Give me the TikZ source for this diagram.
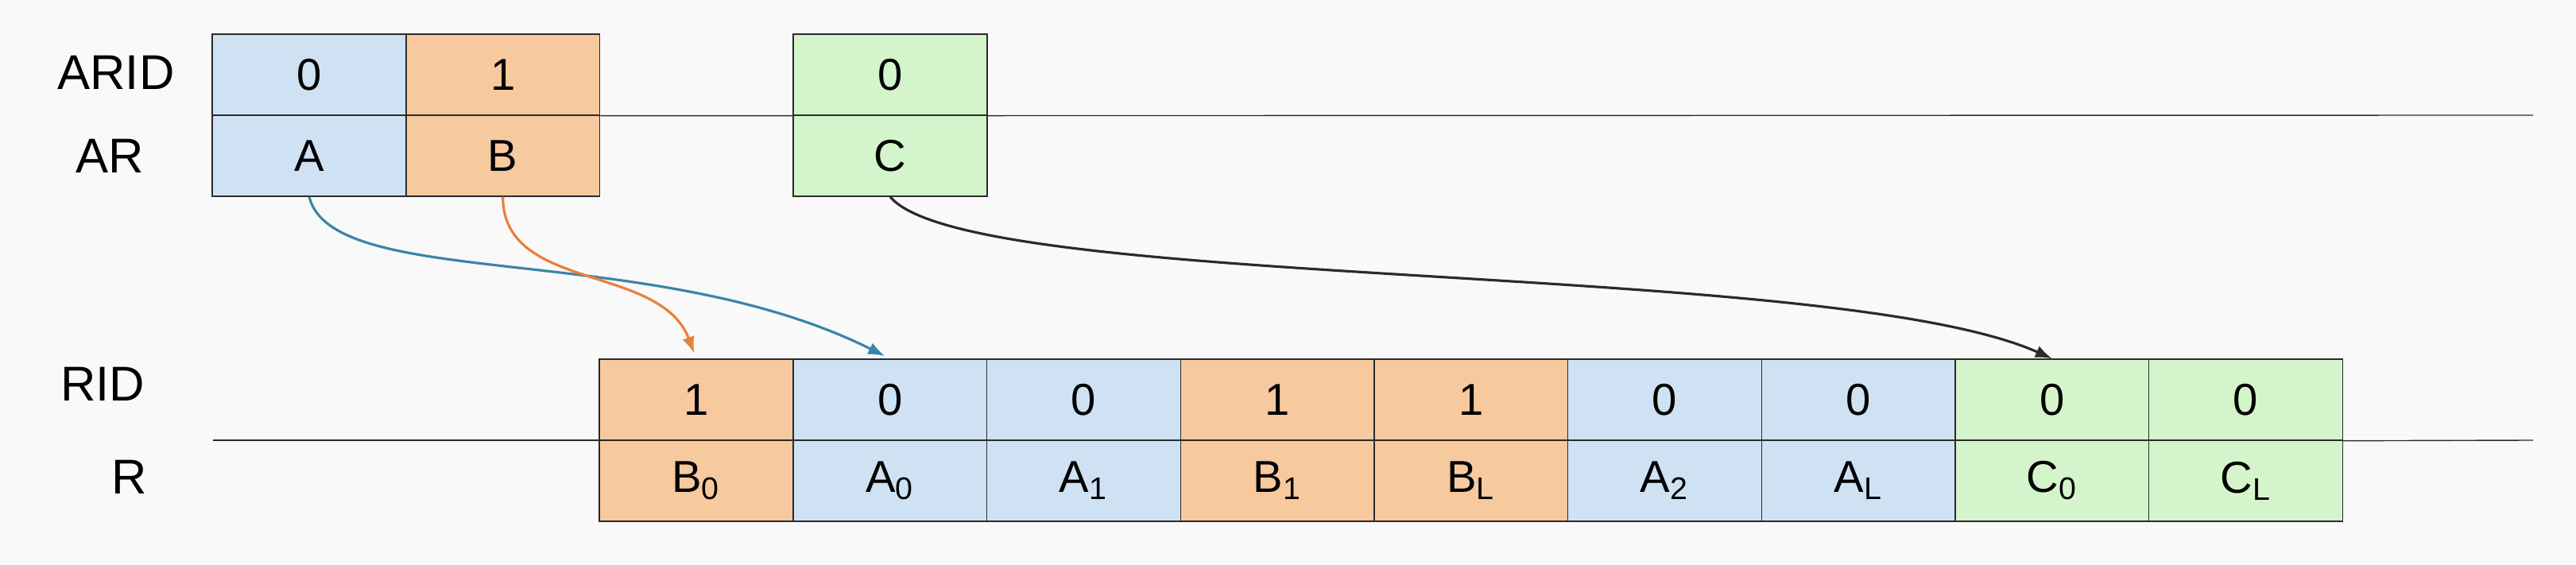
\documentclass[tikz,border=0pt]{standalone}
\usepackage{fontspec}
\setmainfont{Liberation Sans}
\usetikzlibrary{arrows.meta}
\tikzset{>={Latex[length=6pt,width=4.5pt]}, line width=1.2pt}
\definecolor{bgcol}{HTML}{F9F9F9}
\definecolor{cellblue}{HTML}{CFE2F3}
\definecolor{cellorange}{HTML}{F6C99E}
\definecolor{cellgreen}{HTML}{D4F5CB}
\definecolor{linegray}{HTML}{2A2A2A}
\definecolor{arrowblue}{HTML}{3B84A8}
\definecolor{arroworange}{HTML}{E8803A}
\newcommand{\cellsub}[2]{#1\textsubscript{#2}}
\tikzset{
  cell/.style={rectangle,draw=linegray,minimum width=2.437cm,
    minimum height=1.02cm,inner sep=0pt,font=\fontsize{16}{19}\selectfont},
  rowlabel/.style={anchor=base,inner sep=0pt,font=\fontsize{17.5}{21}\selectfont},
  move/.style={->,line width=0.9pt,shorten >=2pt},
}

\begin{document}
\begin{tikzpicture}
  \def\cw{2.437}
  \def\yarid{-0.94}
  \def\yar{-1.96}
  \def\yrid{-5.03}
  \def\yr{-6.05}
  \def\xzero{8.76}

  % frame
  \fill[bgcol] (0,0) rectangle (32.41,-7.11);
  \useasboundingbox (0,0) rectangle (32.41,-7.11);

  % row labels
  \node[rowlabel] (aridlabel) at (1.46,-1.13) {ARID};
  \node[rowlabel] (arlabel) at (1.38,-2.18) {AR};
  \node[rowlabel] (ridlabel) at (1.29,-5.05) {RID};
  \node[rowlabel] (rlabel) at (1.63,-6.22) {R};

  % lines behind the cells
  \coordinate (topend) at (31.87,-1.45);
  \coordinate (botstart) at (2.68,-5.54);
  \coordinate (botend) at (31.87,-5.54);

  % AR: A, B, C
  \node[cell,fill=cellblue] (Aid) at (3.89,\yarid) {0};
  \node[cell,fill=cellblue] (A) at (3.89,\yar) {A};
  \node[cell,fill=cellorange] (Bid) at (3.89+\cw,\yarid) {1};
  \node[cell,fill=cellorange] (B) at (3.89+\cw,\yar) {B};
  \draw[linegray] (Bid.south east) -- (topend);
  \node[cell,fill=cellgreen] (Cid) at (11.20,\yarid) {0};
  \node[cell,fill=cellgreen] (C) at (11.20,\yar) {C};

  % R
  \draw[linegray] (botstart) -- (\xzero-0.5*\cw,-5.54) coordinate (B0corner);
  \node[cell,fill=cellorange] (B0id) at (\xzero,\yrid) {1};
  \node[cell,fill=cellorange] (B0) at (\xzero,\yr) {\cellsub{B}{0}};
  \node[cell,fill=cellblue] (A0id) at (\xzero+\cw,\yrid) {0};
  \node[cell,fill=cellblue] (A0) at (\xzero+\cw,\yr) {\cellsub{A}{0}};
  \node[cell,fill=cellblue] (A1id) at (\xzero+2*\cw,\yrid) {0};
  \node[cell,fill=cellblue] (A1) at (\xzero+2*\cw,\yr) {\cellsub{A}{1}};
  \node[cell,fill=cellorange] (B1id) at (\xzero+3*\cw,\yrid) {1};
  \node[cell,fill=cellorange] (B1) at (\xzero+3*\cw,\yr) {\cellsub{B}{1}};
  \node[cell,fill=cellorange] (BLid) at (\xzero+4*\cw,\yrid) {1};
  \node[cell,fill=cellorange] (BL) at (\xzero+4*\cw,\yr) {\cellsub{B}{L}};
  \node[cell,fill=cellblue] (A2id) at (\xzero+5*\cw,\yrid) {0};
  \node[cell,fill=cellblue] (A2) at (\xzero+5*\cw,\yr) {\cellsub{A}{2}};
  \node[cell,fill=cellblue] (ALid) at (\xzero+6*\cw,\yrid) {0};
  \node[cell,fill=cellblue] (AL) at (\xzero+6*\cw,\yr) {\cellsub{A}{L}};
  \node[cell,fill=cellgreen] (C0id) at (\xzero+7*\cw,\yrid) {0};
  \node[cell,fill=cellgreen] (C0) at (\xzero+7*\cw,\yr) {\cellsub{C}{0}};
  \node[cell,fill=cellgreen] (CLid) at (\xzero+8*\cw,\yrid) {0};
  \node[cell,fill=cellgreen] (CL) at (\xzero+8*\cw,\yr) {\cellsub{C}{L}};
  \draw[linegray] (CLid.south east) -- (botend);

  % where the records go
  \draw[move,arrowblue] (A.south)
    .. controls +(0.3,-1.2) and +(-3.0,1.5) .. (A0id.north);
  \draw[move,arroworange] (B.south)
    .. controls +(0,-1.2) and +(-0.45,1.2) .. (B0id.north);
  \draw[move,linegray,shorten >=0pt] (C.south)
    .. controls +(1.0,-1.2) and +(-2.8,1.25) .. (C0id.north);
\end{tikzpicture}
\end{document}
